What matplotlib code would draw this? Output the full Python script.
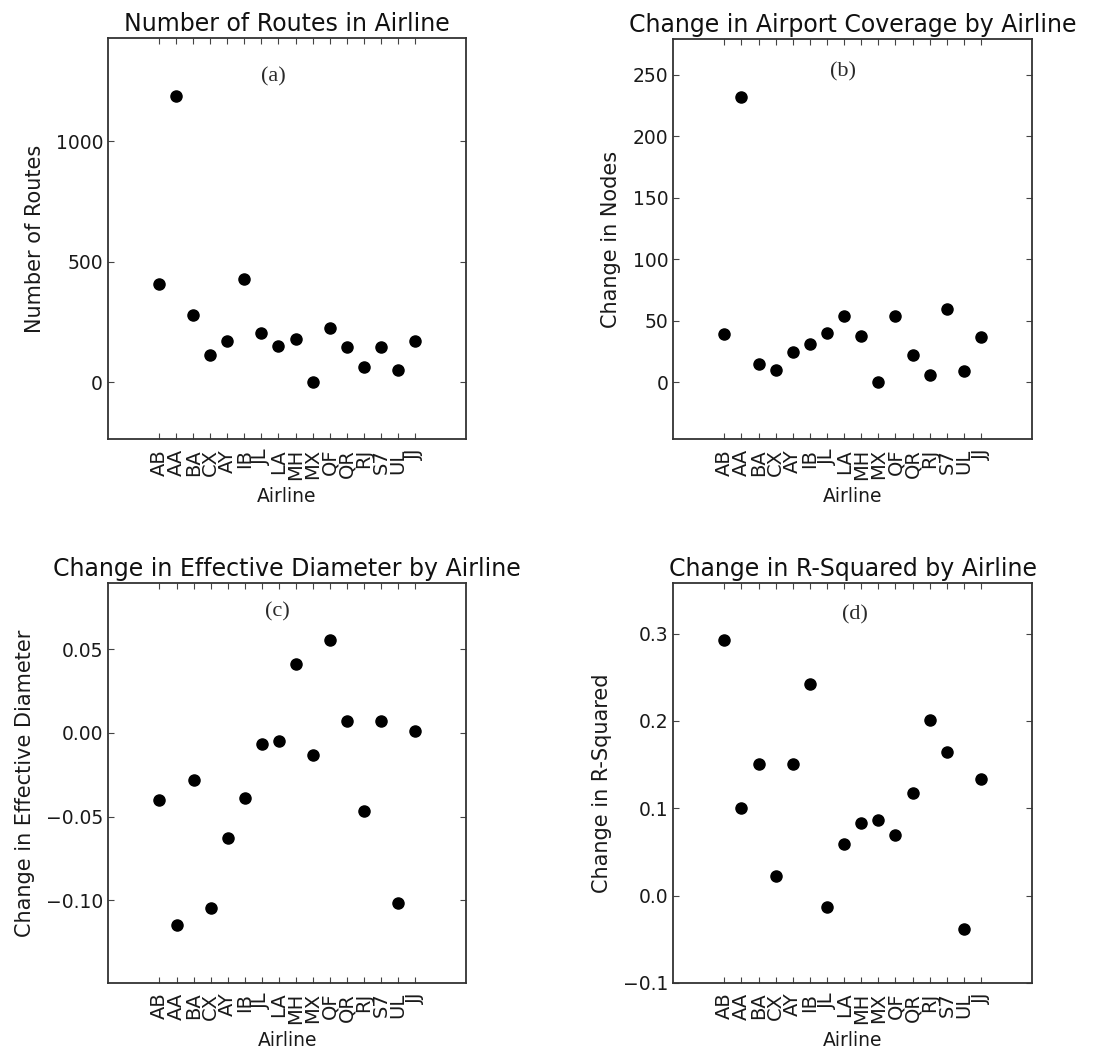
import numpy as np
import matplotlib
matplotlib.use("Agg")
import matplotlib.pyplot as plt


airlines = ["AB", "AA", "BA", "CX", "AY", "IB", "JL", "LA",
            "MH", "MX", "QF", "QR", "RJ", "S7", "UL", "JJ"]

# values
num_routes = [407, 1190, 280, 114, 173, 429, 205, 151,
              179, 1, 226, 145, 62, 145, 50, 173]
node_change = [39, 232, 15, 10, 25, 31, 40, 54,
               38, 0, 54, 22, 6, 60, 9, 37]
diameter_change = [-0.040, -0.115, -0.028, -0.105, -0.063, -0.039, -0.0065, -0.005,
                   0.041, -0.0135, 0.0555, 0.007, -0.047, 0.007, -0.102, 0.001]
rsquared_change = [0.293, 0.100, 0.151, 0.023, 0.151, 0.242, -0.013, 0.059,
                   0.083, 0.087, 0.069, 0.118, 0.201, 0.164, -0.038, 0.134]


# one panel per metric: title, ylabel, data, ylim, yticks, tick format, panel tag position
panels = [
    ("Number of Routes in Airline", "Number of Routes", num_routes,
     (-236, 1430), [0, 500, 1000], "{:.0f}", "(a)", (0.461, 0.903)),
    ("Change in Airport Coverage by Airline", "Change in Nodes", node_change,
     (-46, 279), [0, 50, 100, 150, 200, 250], "{:.0f}", "(b)", (0.473, 0.917)),
    ("Change in Effective Diameter by Airline", "Change in Effective Diameter", diameter_change,
     (-0.1496, 0.0898), [-0.10, -0.05, 0.00, 0.05], "{:.2f}", "(c)", (0.472, 0.928)),
    ("Change in R-Squared by Airline", "Change in R-Squared", rsquared_change,
     (-0.1, 0.358), [-0.1, 0.0, 0.1, 0.2, 0.3], "{:.1f}", "(d)", (0.506, 0.921)),
]

# axes boxes in figure fractions (left, bottom, width, height)
boxes = [
    (0.0965, 0.583, 0.320, 0.381),
    (0.6015, 0.583, 0.321, 0.380),
    (0.0968, 0.0665, 0.320, 0.380),
    (0.6015, 0.0665, 0.321, 0.380),
]

fig = plt.figure(figsize=(11.19, 10.53), dpi=100)
x = np.arange(len(airlines))

for box, (title, ylabel, values, ylim, yticks, fmt, tag, tag_pos) in zip(boxes, panels):
    ax = fig.add_axes(box)
    ax.plot(x, values, "o", color="black", markersize=8, linestyle="none")

    ax.set_xlim(-3, 18)
    ax.set_ylim(*ylim)
    ax.set_xticks(x)
    ax.set_xticklabels(airlines, rotation=90, fontsize=14)
    ax.set_yticks(yticks)
    ax.set_yticklabels([fmt.format(v).replace("-", "\u2212") for v in yticks], fontsize=13.5)

    ax.tick_params(direction="in", length=4.5, width=0.8, top=True, right=True,
                   color="#444444", labelcolor="#1a1a1a")
    ax.tick_params(axis="x", pad=7)
    for spine in ax.spines.values():
        spine.set_linewidth(1.3)
        spine.set_color("#333333")

    ax.set_title(title, fontsize=17, color="#111111", pad=5)
    ax.set_xlabel("Airline", fontsize=13.5, color="#1a1a1a", labelpad=5)
    ax.set_ylabel(ylabel, fontsize=15, color="#1a1a1a", labelpad=8)
    ax.text(tag_pos[0], tag_pos[1], tag, transform=ax.transAxes, ha="center", va="center",
            fontsize=16, family="Liberation Serif", color="#2a2a2a")

fig.savefig("out.png", dpi=100)
